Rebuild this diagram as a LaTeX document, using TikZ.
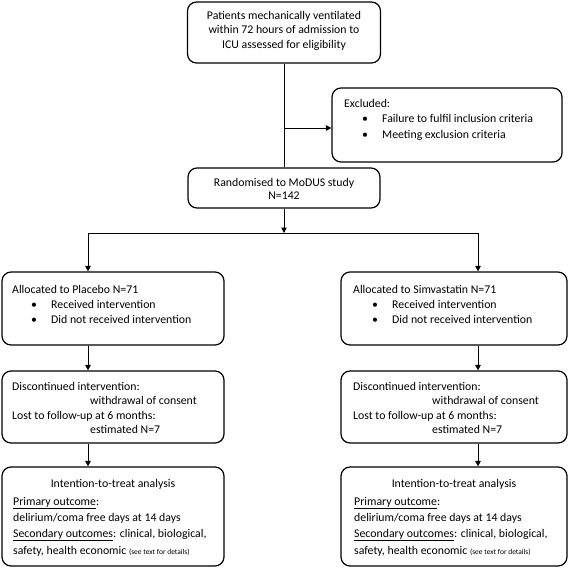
\documentclass[tikz,border=0pt]{standalone}
\usepackage{fontspec}
\setmainfont{Carlito}
\usetikzlibrary{arrows.meta}
\begin{document}
\begin{tikzpicture}[x=1pt,y=-1pt,
  box/.style={draw, rounded corners=9pt, line width=1.2pt, inner sep=0pt},
  txt/.style={anchor=base west, inner sep=0pt, font=\fontsize{11.8}{14}\selectfont},
  ctr/.style={anchor=base, inner sep=0pt, font=\fontsize{11.8}{14}\selectfont},
  conn/.style={line width=0.9pt},
  arr/.style={conn, -{Triangle[length=5.5pt,width=5.5pt]}}]
\useasboundingbox (0,0) rectangle (568,568);
\fill[white] (0,0) rectangle (568,568);
% boxes
\node[box, minimum width=193pt, minimum height=61pt] (top) at (284,32.5) {};
\node[box, minimum width=230pt, minimum height=74pt] (excl) at (447,125) {};
\node[box, minimum width=192pt, minimum height=40pt] (rand) at (284,188) {};
\node[box, minimum width=222pt, minimum height=73pt] (allocL) at (113,308.5) {};
\node[box, minimum width=226pt, minimum height=73pt] (allocR) at (454,308.5) {};
\node[box, minimum width=222pt, minimum height=72pt] (discL) at (113,407) {};
\node[box, minimum width=226pt, minimum height=72pt] (discR) at (454,407) {};
\node[box, minimum width=222pt, minimum height=99pt] (ittL) at (113,516.5) {};
\node[box, minimum width=226pt, minimum height=99pt] (ittR) at (454,516.5) {};
% connectors
\coordinate (b1) at (284,128);
\coordinate (hm) at (284,233);
\coordinate (hl) at (88,233);
\coordinate (hr) at (478,233);
\draw[conn] (top.south) -- (top.south |- rand.north);
\draw[arr] (b1) -- (b1 -| excl.west);
\draw[arr] (rand.south) -- (hm);
\draw[conn] (hl) -- (hr);
\draw[arr] (hl) -- (hl |- allocL.north);
\draw[arr] (hr) -- (hr |- allocR.north);
\draw[arr] (hl |- allocL.south) -- (hl |- discL.north);
\draw[arr] (hr |- allocR.south) -- (hr |- discR.north);
\draw[arr] (hl |- discL.south) -- (hl |- ittL.north);
\draw[arr] (hr |- discR.south) -- (hr |- ittR.north);
% top text
\node[ctr] (t1) at (284,19) {Patients mechanically ventilated};
\node[ctr] (t2) at (284,33.5) {within 72 hours of admission to};
\node[ctr] (t3) at (284,48) {ICU assessed for eligibility};
% excluded
\node[txt] (e1) at (344,107) {Excluded:};
\node[txt] (e2b) at (362,122.5) {•};
\node[txt] (e2) at (382,122.5) {Failure to fulfil inclusion criteria};
\node[txt] (e3b) at (362,138) {•};
\node[txt] (e3) at (382,138) {Meeting exclusion criteria};
% randomised
\node[ctr] (r1) at (284,186) {Randomised to MoDUS study};
\node[ctr] (r2) at (284,199) {N=142};
% allocated
\node[txt] (aL1) at (12,293) {Allocated to Placebo N=71};
\node[txt] (aL2b) at (31,308) {•};
\node[txt] (aL2) at (51,308) {Received intervention};
\node[txt] (aL3b) at (31,323) {•};
\node[txt] (aL3) at (51,323) {Did not received intervention};
\node[txt] (aR1) at (353,293) {Allocated to Simvastatin N=71};
\node[txt] (aR2b) at (372,308) {•};
\node[txt] (aR2) at (392,308) {Received intervention};
\node[txt] (aR3b) at (372,323) {•};
\node[txt] (aR3) at (392,323) {Did not received intervention};
% discontinued
\node[txt] (dL1) at (12,390) {Discontinued intervention:};
\node[txt] (dL2) at (90,404) {withdrawal of consent};
\node[txt] (dL3) at (12,419) {Lost to follow-up at 6 months:};
\node[txt] (dL4) at (90,433) {estimated N=7};
\node[txt] (dR1) at (353,390) {Discontinued intervention:};
\node[txt] (dR2) at (432,404) {withdrawal of consent};
\node[txt] (dR3) at (353,419) {Lost to follow-up at 6 months:};
\node[txt] (dR4) at (432,433) {estimated N=7};
% ITT
\node[ctr] (iL1) at (113,487) {Intention-to-treat analysis};
\node[txt] (iL2) at (13,505) {\underline{Primary outcome}:};
\node[txt] (iL3) at (13,521) {delirium/coma free days at 14 days};
\node[txt] (iL4) at (13,537) {\underline{Secondary outcomes}: clinical, biological,};
\node[txt] (iL5) at (13,554) {safety, health economic {\fontsize{7.5}{9}\selectfont (see text for details)}};
\node[ctr] (iR1) at (454,487) {Intention-to-treat analysis};
\node[txt] (iR2) at (354,505) {\underline{Primary outcome}:};
\node[txt] (iR3) at (354,521) {delirium/coma free days at 14 days};
\node[txt] (iR4) at (354,537) {\underline{Secondary outcomes}: clinical, biological,};
\node[txt] (iR5) at (354,554) {safety, health economic {\fontsize{7.5}{9}\selectfont (see text for details)}};
\end{tikzpicture}
\end{document}
